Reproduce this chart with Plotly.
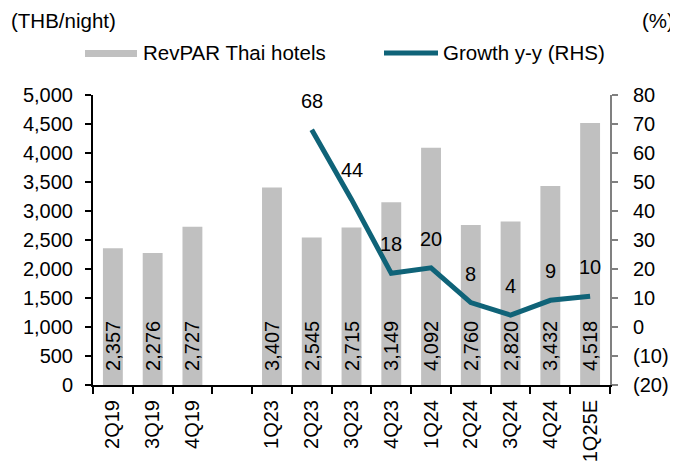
import plotly.graph_objects as go

categories = ["2Q19", "3Q19", "4Q19", " ", "1Q23", "2Q23", "3Q23", "4Q23",
              "1Q24", "2Q24", "3Q24", "4Q24", "1Q25E"]
revpar = [2357, 2276, 2727, None, 3407, 2545, 2715, 3149, 4092, 2760, 2820, 3432, 4518]
growth = [None, None, None, None, None, 68, 44, 18.5, 20.4, 8.4, 4.1, 9.2, 10.6]
growth_labels = ["", "", "", "", "", "68", "44", "18", "20", "8", "4", "9", "10"]

left_ticks = list(range(0, 5001, 500))
left_ticktext = ["{:,}".format(v) for v in left_ticks]
right_ticks = [-20, -10, 0, 10, 20, 30, 40, 50, 60, 70, 80]
right_ticktext = ["(20)", "(10)", "0", "10", "20", "30", "40", "50", "60", "70", "80"]

BAR = "#C0C0C0"
LINE = "#0F6378"
FONT = "Liberation Sans, Arial, sans-serif"

# page body has an 8px margin; compensate so the plot lands where the reference has it
OFF = 8
W, H = 678 - OFF, 464 - OFF
# target pixel positions in the screenshot
PL, PR, PT, PB = 93, 610, 95, 385
ml, mt = PL - OFF, PT - OFF
mr, mb = (678 - PR), (464 - PB)
pw, ph = W - ml - mr, H - mt - mb


def px(xp):
    return (xp - PL) / pw


def py(yp):
    return (PB - yp) / ph


fig = go.Figure()
fig.add_trace(go.Bar(
    x=categories, y=revpar, name="RevPAR Thai hotels",
    marker=dict(color=BAR, line=dict(width=0)),
    text=["" if v is None else "\u00a0\u00a0" + "{:,}".format(v) for v in revpar],
    textposition="inside", insidetextanchor="start", textangle=-90,
    constraintext="none",
    textfont=dict(color="black", size=20, family=FONT),
    showlegend=False,
))
fig.add_trace(go.Scatter(
    x=categories, y=growth, name="Growth y-y (RHS)", yaxis="y2",
    mode="lines", line=dict(color=LINE, width=5),
    connectgaps=False, showlegend=False,
))

annotations = []
for c, v, t in zip(categories, growth, growth_labels):
    if v is None:
        continue
    annotations.append(dict(x=c, y=v, xref="x", yref="y2", text=t, showarrow=False,
                            yshift=29, font=dict(size=20, color="black", family=FONT)))

annotations += [
    dict(x=px(9), y=py(20), xref="paper", yref="paper", text="(THB/night)",
         showarrow=False, xanchor="left", yanchor="middle",
         font=dict(size=20.5, color="black", family=FONT)),
    dict(x=px(676), y=py(20), xref="paper", yref="paper", text="(%)",
         showarrow=False, xanchor="right", yanchor="middle",
         font=dict(size=20.5, color="black", family=FONT)),
    dict(x=px(141), y=py(52), xref="paper", yref="paper", text="RevPAR Thai hotels",
         showarrow=False, xanchor="left", yanchor="middle",
         font=dict(size=20.5, color="black", family=FONT)),
    dict(x=px(441), y=py(52), xref="paper", yref="paper", text="Growth y-y (RHS)",
         showarrow=False, xanchor="left", yanchor="middle",
         font=dict(size=20.5, color="black", family=FONT)),
]
shapes = [
    dict(type="rect", xref="paper", yref="paper", x0=px(85), x1=px(137),
         y0=py(57), y1=py(50), fillcolor=BAR, line=dict(width=0)),
    dict(type="line", xref="paper", yref="paper", x0=px(384), x1=px(438),
         y0=py(53), y1=py(53), line=dict(color=LINE, width=5)),
]

fig.update_layout(
    width=W, height=H,
    margin=dict(l=ml, r=mr, t=mt, b=mb, pad=0, autoexpand=False),
    paper_bgcolor="white", plot_bgcolor="white",
    font=dict(family=FONT, size=20, color="black"),
    bargap=0.5,
    showlegend=False,
    annotations=annotations,
    shapes=shapes,
    xaxis=dict(
        type="category", categoryorder="array", categoryarray=categories,
        tickson="boundaries", ticks="outside", ticklen=7, tickwidth=2, tickcolor="black",
        showline=True, linecolor="black", linewidth=2, tickangle=-90,
        showgrid=False, zeroline=False, tickfont=dict(size=20), automargin=False,
        ticklabelstandoff=5,
    ),
    yaxis=dict(
        range=[0, 5000], tickvals=left_ticks, ticktext=left_ticktext,
        ticks="outside", ticklen=6, tickwidth=2, tickcolor="black",
        showline=True, linecolor="black", linewidth=2,
        showgrid=False, zeroline=False, tickfont=dict(size=20), automargin=False,
        ticklabelstandoff=8,
    ),
    yaxis2=dict(
        overlaying="y", side="right", range=[-20, 80],
        tickvals=right_ticks, ticktext=right_ticktext,
        ticks="outside", ticklen=6, tickwidth=2, tickcolor="#808080",
        showline=True, linecolor="#808080", linewidth=2,
        showgrid=False, zeroline=False, tickfont=dict(size=20), automargin=False,
        ticklabelstandoff=11,
    ),
)

fig.write_html("out.html")
